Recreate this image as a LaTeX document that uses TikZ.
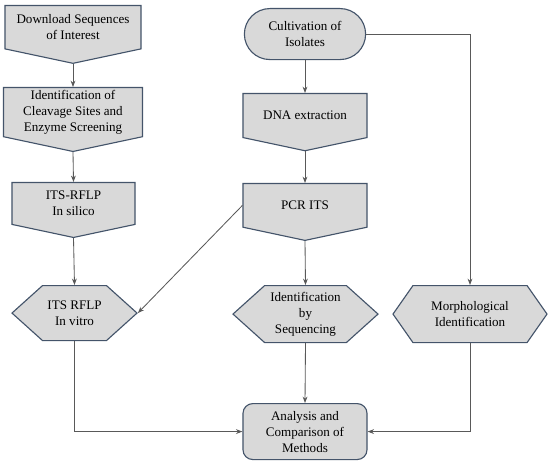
\documentclass[tikz,border=0pt]{standalone}
\usepackage{fontspec}
\setmainfont{Liberation Serif}
\usetikzlibrary{shapes.symbols, shapes.misc, arrows.meta, positioning}
\definecolor{boxfill}{HTML}{D9D9D9}
\definecolor{boxline}{HTML}{44546A}
\definecolor{linegray}{HTML}{595959}

\begin{document}
\begin{tikzpicture}[
    x=0.025cm, y=-0.025cm,
    base/.style={draw=boxline, fill=boxfill, line width=0.8pt, align=center, inner sep=1pt, minimum width=3.1cm, anchor=north, font=\fontsize{9.3}{11.4}\selectfont},
    pent/.style={base, signal, signal to=south, signal pointer angle=156},
    hexa/.style={base, signal, signal to=east and west, signal pointer angle=84, minimum height=1.425cm},
    pill/.style={base, rounded rectangle},
    rbox/.style={base, rectangle, rounded corners=7pt},
    arrow/.style={-{Stealth[length=1.6mm, width=1.2mm]}, draw=linegray, line width=0.6pt}
]
\useasboundingbox (0,0) rectangle (550,465);

% left column
\node[pent, minimum width=3.4cm, minimum height=1.39cm] (dl) at (73,5) {Download Sequences\\of Interest};
\node[pent, minimum width=3.475cm, minimum height=1.5cm] (ident) at (73,87) {Identification of\\Cleavage Sites and\\Enzyme Screening};
\node[pent, minimum width=3.075cm, minimum height=1.2cm] (silico) at (73.5,182) {ITS-RFLP\\In silico};
\node[hexa, minimum width=3.125cm, minimum height=1.375cm] (vitro) at (74.5,285) {ITS RFLP\\In vitro};

% middle column
\node[pill, minimum height=1.275cm] (cult) at (305,8) {Cultivation of\\Isolates};
\node[pent, minimum height=1.33cm] (dna) at (305,93) {DNA extraction};
\node[pent, minimum height=1.225cm] (pcr) at (305,183) {PCR ITS};
\node[hexa, minimum width=3.625cm] (seq) at (305.5,285) {Identification\\by\\Sequencing};
\node[rbox, minimum height=1.4cm] (anal) at (305,403) {Analysis and\\Comparison of\\Methods};

% right column
\node[hexa, minimum width=3.85cm, signal pointer angle=110] (morph) at (470,285) {Morphological\\Identification};

\draw[arrow] (dl.south) -- (ident.north);
\draw[arrow] (ident.south) -- (silico.north);
\draw[arrow] (silico.south) -- (vitro.north);
\draw[arrow] (cult.south) -- (dna.north);
\draw[arrow] (dna.south) -- (pcr.north);
\draw[arrow] (pcr.south) -- (seq.north);
\draw[arrow] (seq.south) -- (anal.north);
\draw[arrow] (pcr.west) -- (vitro.east);
\draw[arrow] (cult.east) -| (morph.north);
\draw[arrow] (vitro.south) |- (anal.west);
\draw[arrow] (morph.south) |- (anal.east);
\end{tikzpicture}
\end{document}
